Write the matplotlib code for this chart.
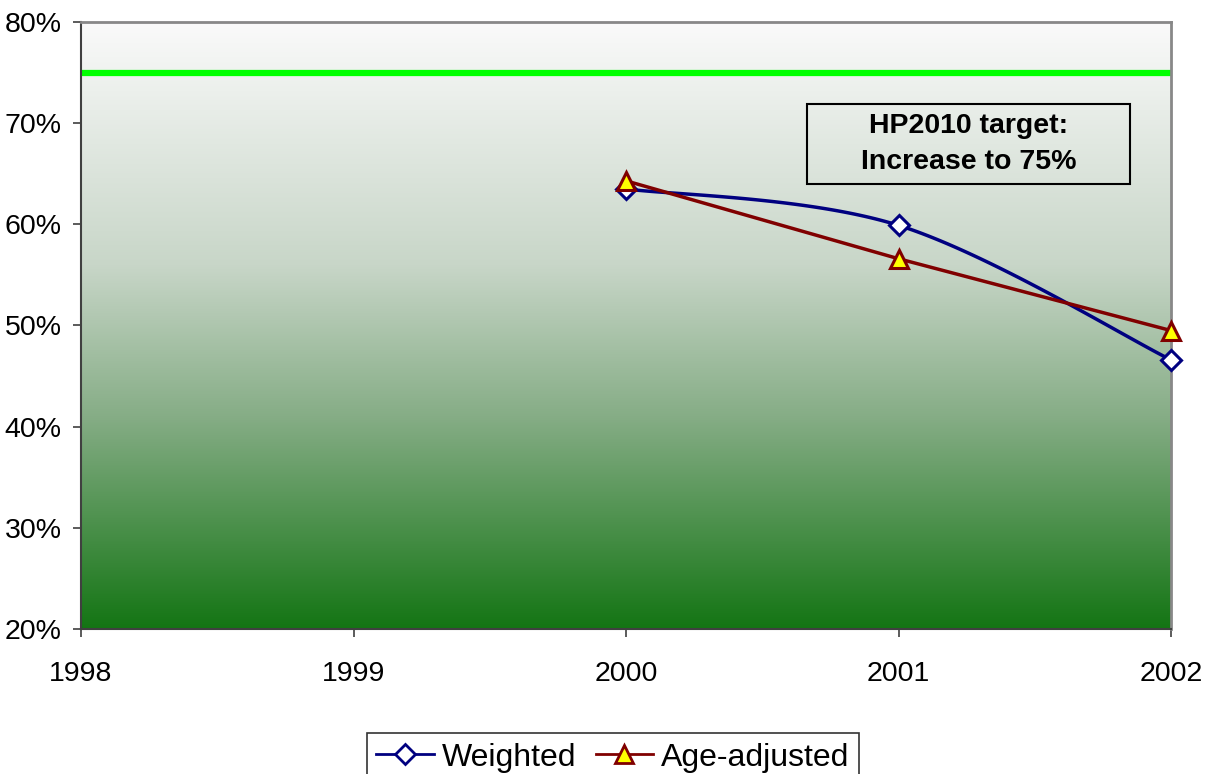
import numpy as np
import matplotlib
matplotlib.use("Agg")
import matplotlib.pyplot as plt
from matplotlib.colors import LinearSegmentedColormap
from matplotlib.ticker import FuncFormatter
from matplotlib.lines import Line2D

plt.rcParams['font.family'] = ['Liberation Sans', 'DejaVu Sans']

years = [2000, 2001, 2002]
weighted = [63.5, 59.9, 46.6]
age_adjusted = [64.3, 56.6, 49.5]
target = 75
x_ticks = [1998, 1999, 2000, 2001, 2002]
y_ticks = [20, 30, 40, 50, 60, 70, 80]


def excel_smooth(xs, ys, n=60):
    P = np.column_stack([xs, ys]).astype(float)
    out = []
    m = len(P)
    for i in range(m - 1):
        p0, p1 = P[i], P[i + 1]
        prev = P[i - 1] if i > 0 else P[i]
        nxt = P[i + 2] if i + 2 < m else P[i + 1]
        c1 = p0 + (p1 - prev) / 6.0
        c2 = p1 - (nxt - p0) / 6.0
        t = np.linspace(0, 1, n)[:, None]
        seg = ((1 - t) ** 3) * p0 + 3 * ((1 - t) ** 2) * t * c1 + 3 * (1 - t) * t ** 2 * c2 + t ** 3 * p1
        out.append(seg if i == 0 else seg[1:])
    out = np.vstack(out)
    return out[:, 0], out[:, 1]


fig = plt.figure(figsize=(12.07, 7.74), dpi=100)
ax = fig.add_axes([81 / 1207, 1 - 629 / 774, (1171 - 81) / 1207, (629 - 22) / 774])

ax.set_xlim(1998, 2002)
ax.set_ylim(20, 80)

cmap = LinearSegmentedColormap.from_list(
    'bg', [(0.0, '#147514'), (0.35, '#86ad86'), (0.6, '#c8d6c8'), (1.0, '#fafafa')])
grad = np.linspace(0, 1, 256)[:, None]
ax.imshow(grad, extent=[1998, 2002, 20, 80], origin='lower', aspect='auto', cmap=cmap, zorder=0)

ax.axhline(target, color='#00ff00', lw=4.5, zorder=2, solid_capstyle='round')

sx, sy = excel_smooth(years, weighted)
ax.plot(sx, sy, color='#000080', lw=2.5, zorder=3, clip_on=False)
ax.plot(years, weighted, ls='none', marker='D', markersize=10, markerfacecolor='white',
        markeredgecolor='#000080', markeredgewidth=2.2, zorder=4, clip_on=False)
ax.plot(years, age_adjusted, color='#800000', lw=2.5, marker='^', markersize=13,
        markerfacecolor='#ffff00', markeredgecolor='#800000', markeredgewidth=2.2, zorder=5,
        clip_on=False)

ax.set_xticks(x_ticks)
ax.set_yticks(y_ticks)
ax.yaxis.set_major_formatter(FuncFormatter(lambda v, p: f"{v:.0f}%"))
ax.tick_params(axis='y', direction='out', length=6, width=1.2, pad=8, labelsize=20.5, color='#404040')
ax.tick_params(axis='x', direction='out', length=6, width=1.2, pad=17, labelsize=20.5, color='#404040')
for s in ['left', 'bottom']:
    ax.spines[s].set_color('#404040')
    ax.spines[s].set_linewidth(1.5)
for s in ['top', 'right']:
    ax.spines[s].set_color('#888888')
    ax.spines[s].set_linewidth(2)

bx0, bx1, by0, by1 = 807, 1130, 104, 184
ax.add_patch(plt.Rectangle((bx0 / 1207, 1 - by1 / 774), (bx1 - bx0) / 1207, (by1 - by0) / 774,
                           transform=fig.transFigure, facecolor='none', edgecolor='black',
                           lw=1.5, zorder=6, clip_on=False))
ax.text((bx0 + bx1) / 2 / 1207, 1 - (by0 + by1) / 2 / 774, 'HP2010 target:\nIncrease to 75%',
        transform=fig.transFigure, ha='center', va='center', fontsize=20.5, fontweight='bold',
        linespacing=1.5, zorder=7)

h1 = Line2D([], [], color='#000080', lw=2, marker='D', markersize=10, markerfacecolor='white',
            markeredgecolor='#000080', markeredgewidth=2)
h2 = Line2D([], [], color='#800000', lw=2, marker='^', markersize=13, markerfacecolor='#ffff00',
            markeredgecolor='#800000', markeredgewidth=2)
leg = fig.legend([h1, h2], ['Weighted', 'Age-adjusted'], loc='upper center',
                 bbox_to_anchor=(613 / 1207, 1 - 733 / 774), ncol=2, fontsize=23, frameon=True,
                 fancybox=False, handlelength=1.8, handletextpad=0.25, columnspacing=0.6,
                 borderpad=0.3, borderaxespad=0, edgecolor='black')
leg.get_frame().set_linewidth(1.2)
leg._legend_box.sep = 0

fig.savefig('out.png', dpi=100)
